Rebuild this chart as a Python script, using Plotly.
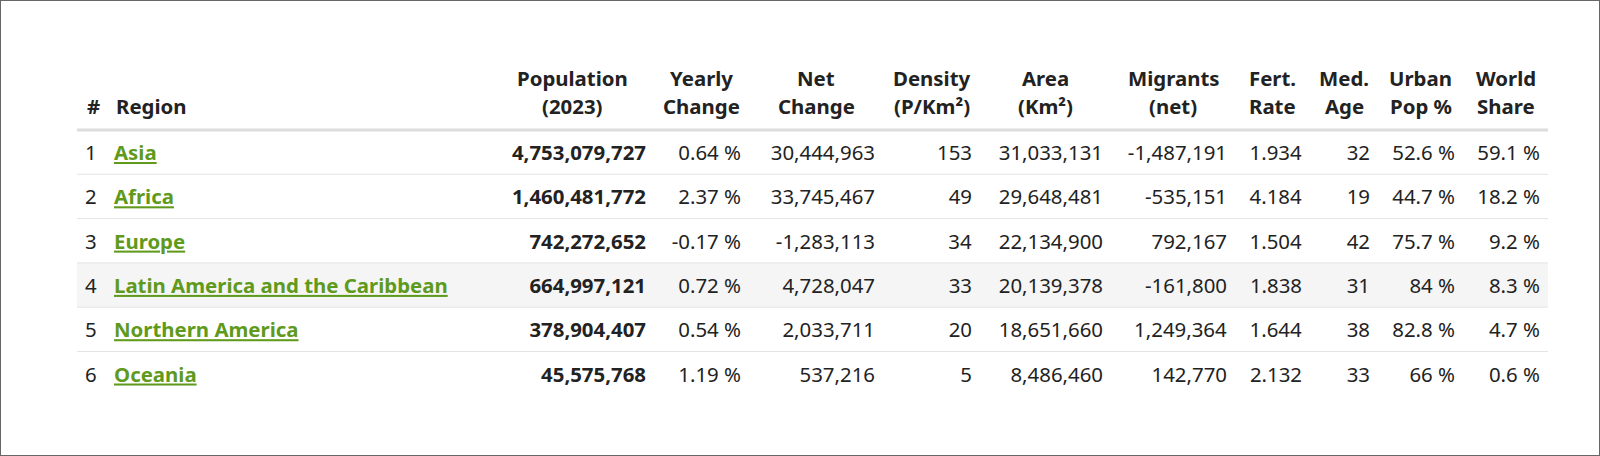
import plotly.graph_objects as go

# ---- data ----
ranks = [1, 2, 3, 4, 5, 6]
regions = ["Asia", "Africa", "Europe", "Latin America and the Caribbean",
           "Northern America", "Oceania"]
population = [4753079727, 1460481772, 742272652, 664997121, 378904407, 45575768]
yearly_change = [0.64, 2.37, -0.17, 0.72, 0.54, 1.19]
net_change = [30444963, 33745467, -1283113, 4728047, 2033711, 537216]
density = [153, 49, 34, 33, 20, 5]
area = [31033131, 29648481, 22134900, 20139378, 18651660, 8486460]
migrants = [-1487191, -535151, 792167, -161800, 1249364, 142770]
fert_rate = [1.934, 4.184, 1.504, 1.838, 1.644, 2.132]
med_age = [32, 19, 42, 31, 38, 33]
urban_pop = [52.6, 44.7, 75.7, 84, 82.8, 66]
world_share = [59.1, 18.2, 9.2, 8.3, 4.7, 0.6]
headers = ["#", "Region", "Population<br>(2023)", "Yearly<br>Change", "Net<br>Change",
           "Density<br>(P/Km²)", "Area<br>(Km²)", "Migrants<br>(net)", "Fert.<br>Rate",
           "Med.<br>Age", "Urban<br>Pop %", "World<br>Share"]
highlight_row = 3  # zero-based index of the hovered row

# ---- styling ----
W, H = 1600, 456
FONT = "Noto Sans"
TXT = "#222222"
GREEN = "#5f9a1c"
FS = 20.4
PAD = 8
TABLE_L, TABLE_R = 77, 1548
HDR_BOTTOM = 130          # y (px) of the header separator
ROW_H = 44.3
SPACER_H = 40             # invisible table header used as top offset
HDR_LINE1_Y = 78          # centre of first header line (px)
HDR_LINE2_Y = 105.5       # centre of second header line (px)
col_widths = [29, 384, 164, 95, 134, 97, 131, 124, 75, 68, 85, 85]

cols = [
    [str(r) for r in ranks],
    [f"<b><u>{r}</u></b>" for r in regions],
    [f"<b>{v:,}</b>" for v in population],
    [f"{v:.2f} %" for v in yearly_change],
    [f"{v:,}" for v in net_change],
    [f"{v:,}" for v in density],
    [f"{v:,}" for v in area],
    [f"{v:,}" for v in migrants],
    [f"{v}" for v in fert_rate],
    [f"{v}" for v in med_age],
    [f"{v:g} %" for v in urban_pop],
    [f"{v:g} %" for v in world_share],
]
# wrap every cell so all cells take the same (rich-text) rendering path
cols = [[f"<span>{s}</span>" for s in c] for c in cols]

ncol = len(cols)
font_colors = [[TXT] * len(ranks) for _ in range(ncol)]
font_colors[1] = [GREEN] * len(ranks)
clear = "rgba(0,0,0,0)"

table_top = HDR_BOTTOM - SPACER_H

fig = go.Figure(go.Table(
    domain=dict(x=[TABLE_L / W, TABLE_R / W], y=[0, 1 - table_top / H]),
    columnwidth=col_widths,
    header=dict(
        values=[""] * ncol,
        font=dict(family=FONT, size=FS, color=TXT),
        fill=dict(color=clear),
        line=dict(color=clear, width=0),
        height=SPACER_H,
    ),
    cells=dict(
        values=cols,
        align=["left", "left"] + ["right"] * (ncol - 2),
        font=dict(family=FONT, size=FS, color=font_colors),
        fill=dict(color=clear),
        line=dict(color=clear, width=0),
        height=ROW_H,
    ),
))

def py(px):
    return 1 - px / H

# header labels, each line centred on its column
annotations = []
x_left = TABLE_L
for i, (h, w) in enumerate(zip(headers, col_widths)):
    lines = h.split("<br>")
    if i < 2:
        x, anchor = (x_left + PAD) / W, "left"
    else:
        x, anchor = (x_left + w / 2) / W, "center"
    ys = [HDR_LINE2_Y] if len(lines) == 1 else [HDR_LINE1_Y, HDR_LINE2_Y]
    for line, yy in zip(lines, ys):
        annotations.append(dict(
            text=f"<b>{line}</b>", x=x, y=py(yy), xref="paper", yref="paper",
            xanchor=anchor, yanchor="middle", showarrow=False,
            font=dict(family=FONT, size=FS, color=TXT)))
    x_left += w

shapes = []
# hovered row highlight
shapes.append(dict(type="rect", xref="paper", yref="paper", layer="below",
                   x0=TABLE_L / W, x1=TABLE_R / W,
                   y0=py(HDR_BOTTOM + ROW_H * (highlight_row + 1)),
                   y1=py(HDR_BOTTOM + ROW_H * highlight_row),
                   fillcolor="#f5f5f5", line=dict(width=0)))
# header separator
shapes.append(dict(type="line", xref="paper", yref="paper", layer="above",
                   x0=TABLE_L / W, x1=TABLE_R / W, y0=py(HDR_BOTTOM), y1=py(HDR_BOTTOM),
                   line=dict(color="#dddddd", width=3)))
for i in range(1, len(ranks)):
    yy = HDR_BOTTOM + ROW_H * i
    shapes.append(dict(type="line", xref="paper", yref="paper", layer="above",
                       x0=TABLE_L / W, x1=TABLE_R / W, y0=py(yy), y1=py(yy),
                       line=dict(color="#e4e4e4", width=1)))
# outer frame
shapes.append(dict(type="rect", xref="paper", yref="paper", layer="above",
                   x0=0, x1=1, y0=0, y1=1, line=dict(color="#666666", width=2)))

fig.update_layout(
    width=W, height=H,
    margin=dict(l=0, r=0, t=0, b=0),
    paper_bgcolor="white",
    plot_bgcolor="white",
    shapes=shapes,
    annotations=annotations,
)

fig.write_html("out.html", config={"displayModeBar": False},
               post_script="document.body.style.margin='0';document.body.style.overflow='hidden';")
